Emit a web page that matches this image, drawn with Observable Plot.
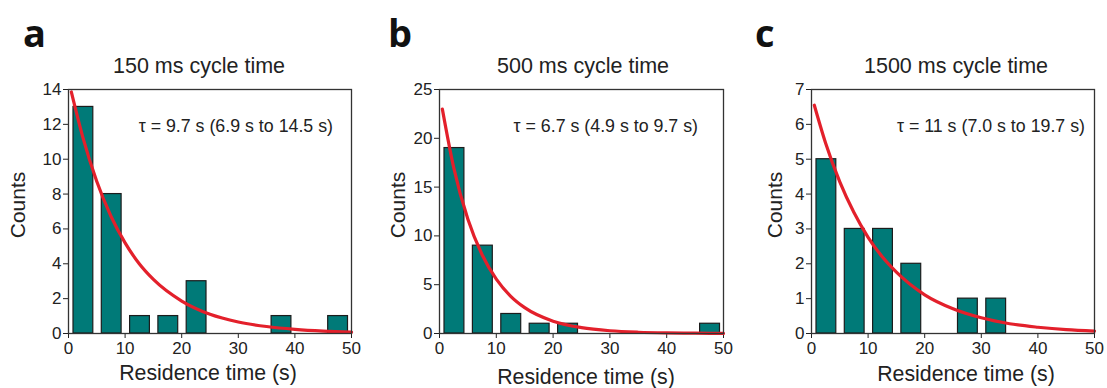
<!DOCTYPE html>
<html>
<head>
<meta charset="utf-8">
<script src="https://cdn.jsdelivr.net/npm/d3@7"></script>
<script src="https://cdn.jsdelivr.net/npm/@observablehq/plot@0.6"></script>
<style>
  html, body { margin: 0; padding: 0; background: #fff; }
  #wrap { position: relative; width: 1107px; height: 388px; overflow: hidden; font-family: "Liberation Sans", Arial, sans-serif; }
  .panel { position: absolute; top: 0; }
  #overlay { position: absolute; left: 0; top: 0; pointer-events: none; }
</style>
</head>
<body>
<div id="wrap"></div>
<script>
// ---- data ----
const binStartsA = [0, 5, 10, 15, 20, 25, 30, 35, 40, 45];
const countsA    = [13, 8, 1, 1, 3, 0, 0, 1, 0, 1];
const binStartsB = [0, 5, 10, 15, 20, 25, 30, 35, 40, 45];
const countsB    = [19, 9, 2, 1, 1, 0, 0, 0, 0, 1];
const binStartsC = [0, 5, 10, 15, 20, 25, 30, 35, 40, 45];
const countsC    = [5, 3, 3, 2, 0, 1, 1, 0, 0, 0];

// exponential fit curves
const fitX  = [0.5, 2.5, 5, 7.5, 10, 12.5, 15, 20, 25, 30, 35, 40, 45, 50];
const fitA  = [13.86, 11.3, 8.72, 6.73, 5.2, 4.0, 3.1, 1.86, 1.1, 0.66, 0.40, 0.24, 0.14, 0.08];
const fitB  = [23.0, 17.0, 11.7, 8.07, 5.57, 3.84, 2.65, 1.26, 0.60, 0.28, 0.13, 0.06, 0.03, 0.01];
const fitC  = [6.55, 5.46, 4.35, 3.47, 2.76, 2.2, 1.76, 1.11, 0.71, 0.45, 0.28, 0.18, 0.11, 0.07];

const xTicks  = [0, 10, 20, 30, 40, 50];
const yTicksA = [0, 2, 4, 6, 8, 10, 12, 14];
const yTicksB = [0, 5, 10, 15, 20, 25];
const yTicksC = [0, 1, 2, 3, 4, 5, 6, 7];

const letters = ["a", "b", "c"];
const titles  = ["150 ms cycle time", "500 ms cycle time", "1500 ms cycle time"];
const tauTexts = ["τ = 9.7 s (6.9 s to 14.5 s)", "τ = 6.7 s (4.9 s to 9.7 s)", "τ = 11 s (7.0 s to 19.7 s)"];
const xLabel = "Residence time (s)";
const yLabel = "Counts";

// ---- layout ----
const panels = [
  {left: 0,   ml: 68, mr: 18, starts: binStartsA, counts: countsA, fit: fitA, yTicks: yTicksA, yMax: 14},
  {left: 369, ml: 70, mr: 15, starts: binStartsB, counts: countsB, fit: fitB, yTicks: yTicksB, yMax: 25},
  {left: 738, ml: 73, mr: 13, starts: binStartsC, counts: countsC, fit: fitC, yTicks: yTicksC, yMax: 7}
];

const wrap = document.getElementById("wrap");
const teal = "#007a78";
const red = "#e3202b";
const fmt = d => String(d);

panels.forEach((p, i) => {
  const bars = p.starts.map((s, j) => ({x1: s, x2: s + 5, y: p.counts[j]})).filter(d => d.y > 0);
  const curve = fitX.map((x, j) => ({x, y: p.fit[j]}));
  const chart = Plot.plot({
    width: 369,
    height: 388,
    marginLeft: p.ml,
    marginRight: p.mr,
    marginTop: 89,
    marginBottom: 55,
    style: {fontFamily: "'Liberation Sans', Arial, sans-serif", fontSize: "17px", color: "#222", background: "transparent"},
    x: {domain: [0, 50]},
    y: {domain: [0, p.yMax]},
    marks: [
      Plot.axisX({ticks: xTicks, tickFormat: fmt, label: null, tickSize: 5, tickPadding: 3, fontSize: 17}),
      Plot.axisY({ticks: p.yTicks, tickFormat: fmt, label: null, tickSize: 5, tickPadding: 2, fontSize: 17}),
      Plot.rectY(bars, {x1: "x1", x2: "x2", y: "y", fill: teal, stroke: "#1c1c1c", strokeWidth: 1.2, insetLeft: 5, insetRight: 3.5}),
      Plot.line(curve, {x: "x", y: "y", stroke: red, strokeWidth: 3.2, curve: "monotone-x"}),
      Plot.frame({stroke: "#333", strokeWidth: 1.3})
    ]
  });
  chart.classList.add("panel");
  chart.style.left = p.left + "px";
  wrap.appendChild(chart);
});

// ---- overlay texts ----
const textPos = [
  {letterX: 23, letterY: 47, titleX: 199, tauX: 333, xlabX: 208, xlabY: 380, ylabX: 25},
  {letterX: 388, letterY: 47, titleX: 583, tauX: 698, xlabX: 586, xlabY: 384, ylabX: 405},
  {letterX: 755, letterY: 47, titleX: 956, tauX: 1085, xlabX: 966, xlabY: 381, ylabX: 782}
];
const svg = d3.select(wrap).append("svg")
  .attr("id", "overlay").attr("width", 1107).attr("height", 388)
  .style("font-family", "'Liberation Sans', Arial, sans-serif").style("fill", "#222");

textPos.forEach((t, i) => {
  svg.append("text").attr("x", t.letterX).attr("y", t.letterY)
    .style("font-family", "'Open Sans', 'DejaVu Sans', sans-serif").style("font-weight", 700)
    .style("font-size", "38px").style("fill", "#111").text(letters[i]);
  svg.append("text").attr("x", t.titleX).attr("y", 73).attr("text-anchor", "middle")
    .style("font-size", "21.5px").text(titles[i]);
  svg.append("text").attr("x", t.tauX).attr("y", 131.5).attr("text-anchor", "end")
    .style("font-size", "17.8px").text(tauTexts[i]);
  svg.append("text").attr("x", t.xlabX).attr("y", t.xlabY).attr("text-anchor", "middle")
    .style("font-size", "21.3px").text(xLabel);
  svg.append("text").attr("transform", `translate(${t.ylabX},205) rotate(-90)`).attr("text-anchor", "middle")
    .style("font-size", "21px").text(yLabel);
});
</script>
</body>
</html>
